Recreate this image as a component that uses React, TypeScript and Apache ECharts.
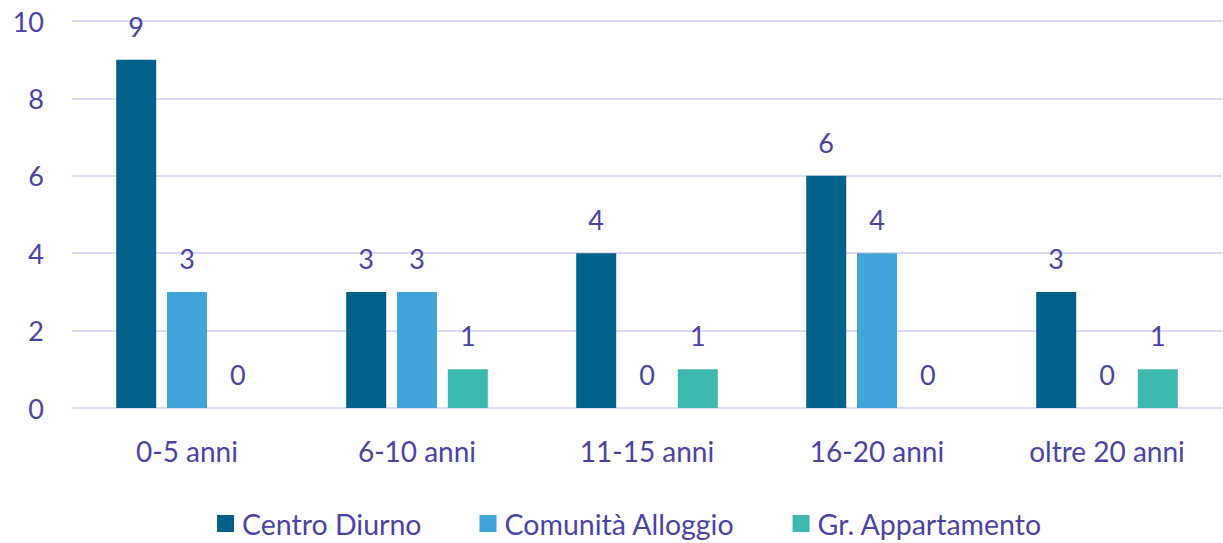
import React, { useEffect, useRef } from "react";
import * as echarts from "echarts";

const categories = ["0-5 anni", "6-10 anni", "11-15 anni", "16-20 anni", "oltre 20 anni"];
const centroDiurno = [9, 3, 4, 6, 3];
const comunitaAlloggio = [3, 3, 0, 4, 0];
const grAppartamento = [0, 1, 1, 0, 1];
const seriesNames = ["Centro Diurno", "Comunità Alloggio", "Gr. Appartamento"];
const colors = ["#00628a", "#41a5d9", "#3cb8b0"];

const textColor = "#4a44a8";
const fontFamily = "Lato, sans-serif";

export default function App() {
  const ref = useRef<HTMLDivElement>(null);
  useEffect(() => {
    if (!ref.current) return;
    const chart = echarts.init(ref.current, undefined, { renderer: "svg" });
    const data = [centroDiurno, comunitaAlloggio, grAppartamento];
    chart.setOption({
      animation: false,
      color: colors,
      textStyle: { fontFamily, color: textColor },
      grid: { left: 72, right: 1, top: 21, bottom: 135, containLabel: false },
      legend: {
        bottom: 0,
        left: 212,
        itemWidth: 17,
        itemHeight: 17,
        itemGap: 58,
        icon: "rect",
        textStyle: { fontFamily, color: textColor, fontSize: 28.5, padding: [0, 0, 0, 3] },
        data: seriesNames,
      },
      xAxis: {
        type: "category",
        data: categories,
        axisLine: { show: true, lineStyle: { color: "#dcdaf5", width: 2 } },
        axisTick: { show: false },
        axisLabel: { color: textColor, fontSize: 28, margin: 29, fontFamily },
      },
      yAxis: {
        type: "value",
        min: 0,
        max: 10,
        interval: 2,
        axisLine: { show: false },
        axisTick: { show: false },
        axisLabel: { color: textColor, fontSize: 27, margin: 28, fontFamily },
        splitLine: { lineStyle: { color: "#dcdaf5", width: 2 } },
      },
      series: seriesNames.map((name, i) => ({
        name,
        type: "bar",
        data: data[i],
        barWidth: 40,
        barGap: "27%",
        itemStyle: { color: colors[i] },
        label: {
          show: true,
          position: "top",
          distance: 20,
          color: textColor,
          fontSize: 27,
          fontFamily,
        },
      })),
    });
    return () => chart.dispose();
  }, []);
  return (
    <div
      ref={ref}
      style={{ position: "fixed", left: 0, top: 0, width: 1223, height: 543, background: "#fff" }}
    />
  );
}
